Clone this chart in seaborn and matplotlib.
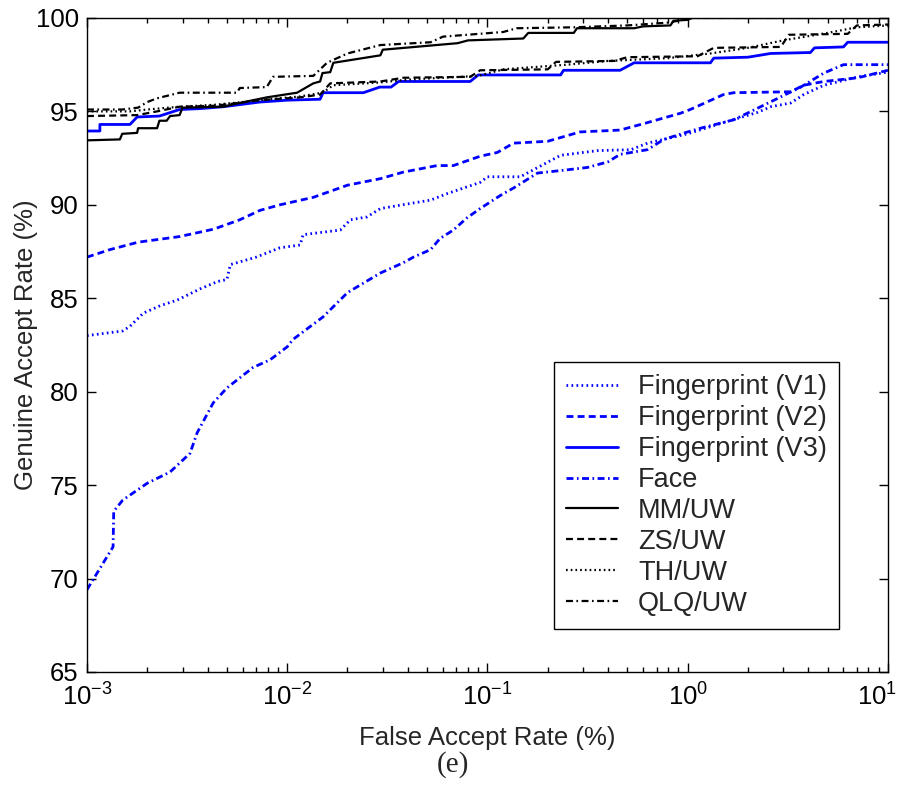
import matplotlib
matplotlib.use("Agg")
import matplotlib.pyplot as plt
import matplotlib.transforms as mtransforms
import seaborn as sns
import numpy as np
import pandas as pd

# ---------------- data (FAR in %, GAR in %) ----------------
v1_far = [1e-3, 1.51e-3, 1.64e-3, 1.91e-3, 2.32e-3, 2.82e-3, 3.67e-3, 4.5e-3, 5.0e-3, 5.2e-3,
          7.0e-3, 9.2e-3, 1.16e-2, 1.2e-2, 1.84e-2, 2.07e-2, 2.5e-2, 2.92e-2, 4.27e-2, 5.2e-2,
          6.3e-2, 9.2e-2, 0.1, 0.146, 0.232, 0.355, 0.52, 0.63, 1.0, 1.51, 2.24, 2.6, 3.27,
          3.8, 4.79, 7.1, 10.0]
v1_gar = [83.0, 83.25, 83.5, 84.2, 84.6, 84.9, 85.5, 85.9, 86.0, 86.8,
          87.2, 87.7, 87.85, 88.4, 88.65, 89.2, 89.35, 89.8, 90.1, 90.25,
          90.6, 91.2, 91.5, 91.5, 92.65, 92.9, 92.95, 93.3, 93.8, 94.4, 94.95, 95.25, 95.45,
          95.9, 96.4, 96.85, 97.1]

v2_far = [1e-3, 1.3e-3, 1.8e-3, 2.9e-3, 4.3e-3, 5.8e-3, 7.3e-3, 9.2e-3, 1.35e-2, 2.0e-2,
          2.92e-2, 3.8e-2, 5.6e-2, 6.76e-2, 9.2e-2, 0.112, 0.135, 0.2, 0.29, 0.46, 0.63,
          0.92, 1.03, 1.51, 1.7, 3.27, 3.8, 4.79, 7.1, 10.0]
v2_gar = [87.2, 87.6, 88.0, 88.3, 88.7, 89.2, 89.7, 90.0, 90.4, 91.05,
          91.4, 91.75, 92.1, 92.1, 92.6, 92.8, 93.3, 93.4, 93.9, 94.0, 94.4,
          94.9, 95.1, 95.9, 96.0, 96.05, 96.4, 96.6, 96.8, 97.2]

v3_far = [1e-3, 1.16e-3, 1.16e-3, 1.64e-3, 1.78e-3, 2.3e-3, 2.9e-3, 3.7e-3, 4.8e-3, 7.3e-3,
          1.0e-2, 1.46e-2, 1.51e-2, 2.4e-2, 2.9e-2, 3.3e-2, 3.6e-2, 8.2e-2, 9.0e-2, 0.232,
          0.24, 0.46, 0.54, 1.3, 1.35, 2.0, 2.6, 4.1, 4.3, 6.0, 6.3, 10.0]
v3_gar = [93.95, 93.95, 94.3, 94.3, 94.7, 94.75, 95.1, 95.15, 95.25, 95.5,
          95.6, 95.65, 96.0, 96.0, 96.3, 96.3, 96.6, 96.6, 96.95, 96.95,
          97.2, 97.2, 97.6, 97.6, 97.85, 97.9, 98.1, 98.15, 98.4, 98.45, 98.7, 98.7]

face_far = [1e-3, 1.35e-3, 1.36e-3, 1.51e-3, 2.0e-3, 2.6e-3, 3.27e-3, 3.55e-3, 4.27e-3, 5.0e-3,
            6.76e-3, 8.2e-3, 1.0e-2, 1.07e-2, 1.51e-2, 2.0e-2, 2.92e-2, 3.8e-2, 4.27e-2, 5.2e-2,
            5.8e-2, 6.76e-2, 7.9e-2, 9.2e-2, 0.116, 0.135, 0.178, 0.24, 0.316, 0.40, 0.46,
            0.63, 0.76, 1.0, 1.16, 1.7, 2.7, 3.67, 4.79, 6.0, 10.0]
face_gar = [69.4, 71.7, 73.6, 74.2, 75.1, 75.7, 76.7, 77.8, 79.4, 80.2,
            81.3, 81.7, 82.4, 82.8, 84.0, 85.3, 86.35, 86.9, 87.2, 87.6,
            88.2, 88.65, 89.3, 89.8, 90.5, 90.9, 91.7, 91.85, 92.0, 92.3, 92.7,
            92.95, 93.5, 93.9, 94.1, 94.55, 95.6, 96.3, 97.05, 97.5, 97.5]

mm_far = [1e-3, 1.46e-3, 1.5e-3, 1.78e-3, 1.8e-3, 2.24e-3, 2.3e-3, 2.5e-3, 2.6e-3, 2.9e-3,
          3.0e-3, 4.8e-3, 5.5e-3, 7.9e-3, 1.12e-2, 1.35e-2, 1.46e-2, 1.5e-2, 1.64e-2, 1.7e-2,
          2.92e-2, 3.0e-2, 7.1e-2, 8.0e-2, 0.151, 0.16, 0.27, 0.28, 0.54, 0.6, 0.82, 0.85,
          1.0, 1.05, 10.0]
mm_gar = [93.45, 93.5, 93.8, 93.85, 94.1, 94.1, 94.5, 94.5, 94.75, 94.8,
          95.2, 95.25, 95.4, 95.75, 96.0, 96.5, 96.6, 97.05, 97.1, 97.6,
          98.0, 98.3, 98.65, 98.8, 98.9, 99.2, 99.2, 99.45, 99.45, 99.55, 99.6, 99.85,
          99.9, 100.0, 100.0]

zs_far = [1e-3, 1.78e-3, 2.24e-3, 2.9e-3, 4.3e-3, 5.2e-3, 7.3e-3, 1.16e-2, 1.46e-2, 1.64e-2,
          2.92e-2, 3.8e-2, 8.2e-2, 9.2e-2, 0.2, 0.22, 0.43, 0.5, 1.12, 1.35, 2.92, 3.2,
          6.3, 7.0, 10.0]
zs_gar = [94.75, 94.8, 95.0, 95.25, 95.3, 95.4, 95.6, 95.75, 95.9, 96.5,
          96.6, 96.8, 96.85, 97.2, 97.25, 97.65, 97.7, 97.9, 97.95, 98.4, 98.45, 99.1,
          99.15, 99.6, 99.65]

th_far = [1e-3, 1.64e-3, 2.0e-3, 2.9e-3, 4.3e-3, 6.0e-3, 8.0e-3, 1.16e-2, 1.5e-2, 1.7e-2,
          2.92e-2, 4.0e-2, 9.0e-2, 0.12, 0.25, 0.4, 0.8, 1.3, 2.0, 3.0, 5.0, 7.0, 10.0]
th_gar = [95.0, 95.0, 95.1, 95.25, 95.35, 95.5, 95.65, 95.8, 96.0, 96.4,
          96.55, 96.7, 96.9, 97.25, 97.5, 97.7, 97.85, 98.1, 98.4, 98.8, 99.2, 99.5, 99.6]

qlq_far = [1e-3, 1.5e-3, 1.8e-3, 2.0e-3, 2.24e-3, 2.9e-3, 5.6e-3, 5.8e-3, 7.9e-3, 8.5e-3,
           1.35e-2, 1.58e-2, 2.0e-2, 2.92e-2, 5.2e-2, 6.0e-2, 0.12, 0.14, 0.27, 0.5, 0.8,
           1.0, 1.05, 10.0]
qlq_gar = [95.1, 95.1, 95.2, 95.5, 95.7, 96.0, 96.0, 96.25, 96.3, 96.85,
           96.9, 97.6, 98.1, 98.55, 98.7, 99.0, 99.25, 99.45, 99.5, 99.6, 99.75,
           99.95, 100.0, 100.0]

labels = ["Fingerprint (V1)", "Fingerprint (V2)", "Fingerprint (V3)", "Face",
          "MM/UW", "ZS/UW", "TH/UW", "QLQ/UW"]
x_ticks = [1e-3, 1e-2, 1e-1, 1e0, 1e1]
y_ticks = [65, 70, 75, 80, 85, 90, 95, 100]

series = [(v1_far, v1_gar), (v2_far, v2_gar), (v3_far, v3_gar), (face_far, face_gar),
          (mm_far, mm_gar), (zs_far, zs_gar), (th_far, th_gar), (qlq_far, qlq_gar)]

# ---------------- styles ----------------
plt.rcParams["lines.scale_dashes"] = False
styles = [
    dict(color="#0000ff", lw=2.0, ls=(0, (1.2, 2.4))),
    dict(color="#0000ff", lw=2.0, ls=(0, (5, 3))),
    dict(color="#0000ff", lw=2.0, ls="-"),
    dict(color="#0000ff", lw=2.0, ls=(0, (5, 2.5, 1.2, 2.5))),
    dict(color="black", lw=1.6, ls="-"),
    dict(color="black", lw=1.6, ls=(0, (5, 3))),
    dict(color="black", lw=1.6, ls=(0, (1.2, 2.2))),
    dict(color="black", lw=1.6, ls=(0, (5, 2.5, 1.2, 2.5))),
]

sns.set_style("ticks")
plt.rcParams["font.family"] = ["Liberation Sans", "DejaVu Sans"]
plt.rcParams["mathtext.fontset"] = "custom"
plt.rcParams["mathtext.rm"] = "Liberation Sans"
plt.rcParams["mathtext.it"] = "Liberation Sans:italic"
plt.rcParams["mathtext.bf"] = "Liberation Sans:bold"

FS = 18.5
FS_LEG = 19.5

fig = plt.figure(figsize=(9.06, 7.91), dpi=100)
ax = fig.add_axes([0.096, 0.1505, 0.884, 0.8268])

for (fx, fy), lab, st in zip(series, labels, styles):
    df = pd.DataFrame({"far": fx, "gar": fy})
    sns.lineplot(data=df, x="far", y="gar", ax=ax, sort=False, estimator=None,
                 color=st["color"], linewidth=st["lw"], linestyle=st["ls"], label=lab)

ax.set_xscale("log")
ax.set_xlim(1e-3, 1e1)
ax.set_ylim(65, 100)
ax.set_xticks(x_ticks)
ax.set_yticks(y_ticks)
ax.xaxis.set_minor_locator(matplotlib.ticker.LogLocator(base=10, subs=np.arange(2, 10)))

for sp in ax.spines.values():
    sp.set_visible(True)
    sp.set_linewidth(1.0)
    sp.set_color("black")

ax.tick_params(which="both", direction="in", top=True, right=True, colors="black",
               labelsize=FS, width=1.0)
ax.tick_params(which="major", length=6.5)
ax.tick_params(which="minor", length=3.5)
ax.tick_params(axis="y", pad=6)
ax.tick_params(axis="x", pad=8)

fig.canvas.draw()
last_tick = ax.xaxis.get_major_ticks()[-1]
last_lab = last_tick.label1
last_lab.set_ha("right")
last_lab.set_transform(last_lab.get_transform() +
                       mtransforms.ScaledTranslation(9 / 100, 0, fig.dpi_scale_trans))

ax.set_xlabel("False Accept Rate (%)", fontsize=FS)
ax.set_ylabel("Genuine Accept Rate (%)", fontsize=FS)
ax.xaxis.label.set_va("center")
ax.yaxis.label.set_va("center")
ax.xaxis.set_label_coords(0.5, -0.101)
ax.yaxis.set_label_coords(-0.076, 0.5)

leg = ax.legend(loc="lower right", bbox_to_anchor=(0.939, 0.066), fontsize=FS_LEG,
                frameon=True, fancybox=False, shadow=False, framealpha=1,
                edgecolor="black", handlelength=1.9, handletextpad=0.75,
                labelspacing=0.18, borderpad=0.45, borderaxespad=0)
leg.get_frame().set_linewidth(1.0)

fig.text(453 / 906, 1 - 765 / 791, "(e)", ha="center", va="center",
         family=["Liberation Serif", "DejaVu Serif"], fontsize=21)

fig.savefig("out.png", dpi=100)
